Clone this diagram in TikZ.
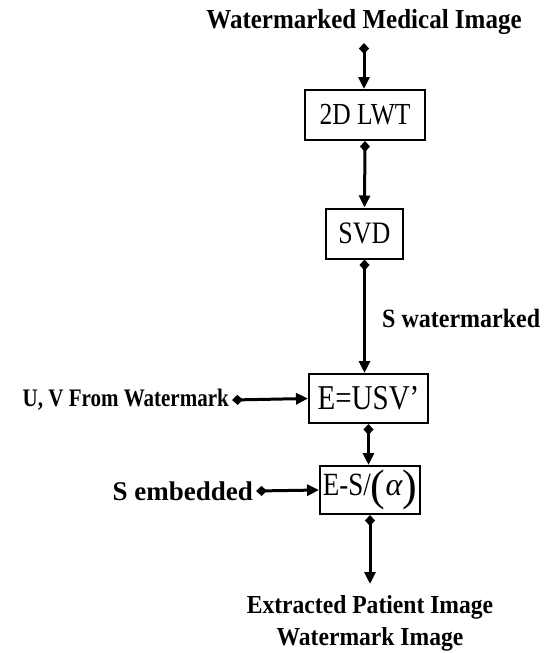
\documentclass[tikz,border=0pt]{standalone}
\usepackage{fontspec}
\usepackage{graphicx}
\setmainfont{Liberation Serif}
\usetikzlibrary{arrows.meta}
\newcommand{\tallbox}[2][1.2]{\scalebox{1}[#1]{#2}}
\begin{document}
\begin{tikzpicture}[x=1pt,y=-1pt,
  box/.style={draw, line width=2pt, inner sep=0pt, align=center},
  lbl/.style={inner sep=0pt, font=\bfseries},
  conn/.style={line width=3pt, {Diamond[length=11pt,width=10pt]}-{Triangle[length=12pt,width=11pt]}}]
\useasboundingbox (0,0) rectangle (559,653);
\node[lbl, font=\bfseries\fontsize{25}{25}\selectfont] (t) at (364,22) {\tallbox[1.1]{Watermarked Medical Image}};
\node[box, minimum width=120pt, minimum height=50pt, font=\fontsize{25.5}{25}\selectfont] (lwt) at (365,115) {\tallbox{2D LWT}};
\node[box, minimum width=77pt, minimum height=50pt, font=\fontsize{26}{26}\selectfont] (svd) at (364.5,233.5) {\tallbox{SVD}};
\node[box, minimum width=119pt, minimum height=49pt, font=\fontsize{29}{29}\selectfont] (usv) at (368.5,398.5) {\tallbox{E=USV’}};
\node[box, minimum width=100pt, minimum height=48pt, font=\fontsize{27}{27}\selectfont] (es) at (370,490) {\tallbox{E-S/}\raisebox{-0.2em}{\fontsize{44}{44}\selectfont(}{\itshape\fontsize{32}{32}\selectfont α}\raisebox{-0.2em}{\fontsize{44}{44}\selectfont)}};
\node[lbl, font=\bfseries\fontsize{21}{21}\selectfont, anchor=east] (uv) at (229,400) {\tallbox{U, V From Watermark}};
\node[lbl, font=\bfseries\fontsize{27}{27}\selectfont, anchor=east] (se) at (253,491) {S embedded};
\node[lbl, font=\bfseries\fontsize{24}{24}\selectfont, anchor=west] (sw) at (382,318) {\tallbox[1.1]{S watermarked}};
\node[lbl, font=\bfseries\fontsize{23.6}{32}\selectfont, align=center, anchor=north] (out) at (370,595) {\tallbox[1.1]{Extracted Patient Image}\\\tallbox[1.1]{Watermark Image}};
\draw[conn] (t.south |- 0,43) -- (t.south |- lwt.north);
\draw[conn] (lwt.south) -- (svd.north);
\draw[conn] (svd.south) -- (usv.north -| svd.south);
\draw[conn] ([xshift=3pt]uv.east) -- (usv.west);
\draw[conn] (usv.south) -- (es.north -| usv.south);
\draw[conn] ([xshift=3pt]se.east) -- (es.west);
\draw[conn] (es.south) -- (es.south |- 0,584);
\end{tikzpicture}
\end{document}
